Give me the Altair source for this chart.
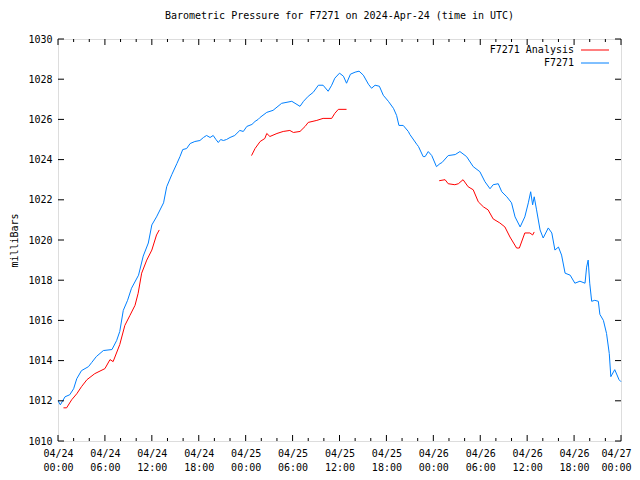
import altair as alt
import pandas as pd

# ---- data (hours since 2024-04-24 00:00 UTC, pressure in mb) ----
blue_hours = [0.0, 0.3, 0.9, 1.5, 2.0, 2.4, 3.0, 3.9, 4.3, 4.9, 5.8, 6.9, 7.5, 7.9, 8.35, 8.9, 9.4,
              10.3, 10.9, 11.55, 12.0, 12.6, 13.5, 13.9, 14.55, 15.2, 15.6, 15.95, 16.45, 16.9, 17.5,
              18.15, 18.6, 19.0, 19.45, 19.85, 20.2, 20.5, 20.8, 21.15, 21.55, 22.0, 22.6, 23.25, 23.7,
              24.15, 24.8, 25.2, 25.6, 25.85, 26.7, 27.5, 28.6, 29.9, 30.95, 31.4, 32.0, 32.65, 33.3,
              33.9, 34.55, 35.0, 35.4, 36.0, 36.5, 36.9, 37.4, 38.0, 38.5, 39.05, 39.7, 40.1, 40.55,
              41.1, 41.6, 42.25, 42.9, 43.3, 43.6, 44.15, 44.8, 45.0, 45.9, 46.1, 46.7, 46.95, 47.35,
              47.8, 48.4, 48.85, 49.1, 49.9, 50.8, 51.4, 52.25, 53.1, 53.95, 54.6, 55.25, 55.65, 56.3,
              56.75, 57.4, 58.0, 58.45, 59.1, 59.7, 60.15, 60.45, 60.7, 60.9, 61.2, 61.65, 62.05, 62.7,
              63.15, 63.55, 64.0, 64.4, 64.85, 65.5, 66.1, 66.75, 67.4, 67.6, 67.8, 68.0, 68.25, 68.65,
              69.1, 69.3, 69.75, 70.15, 70.5, 70.7, 71.2, 71.75, 72.0]
blue_pressure = [1012.0, 1011.8, 1012.2, 1012.3, 1012.6, 1013.1, 1013.5, 1013.7, 1013.9, 1014.2, 1014.5,
                 1014.55, 1015.0, 1015.45, 1016.5, 1017.0, 1017.6, 1018.25, 1019.2, 1019.85, 1020.75,
                 1021.15, 1021.85, 1022.65, 1023.25, 1023.8, 1024.15, 1024.5, 1024.55, 1024.8, 1024.9,
                 1024.95, 1025.1, 1025.2, 1025.1, 1025.2, 1025.0, 1024.85, 1025.0, 1024.95, 1025.0,
                 1025.1, 1025.2, 1025.45, 1025.4, 1025.65, 1025.75, 1025.9, 1026.0, 1026.1, 1026.35,
                 1026.45, 1026.8, 1026.9, 1026.65, 1026.9, 1027.15, 1027.35, 1027.7, 1027.7, 1027.4,
                 1027.7, 1028.05, 1028.3, 1028.15, 1027.8, 1028.25, 1028.35, 1028.4, 1028.2, 1027.75,
                 1027.55, 1027.7, 1027.65, 1027.2, 1026.9, 1026.55, 1026.2, 1025.7, 1025.7, 1025.4,
                 1025.25, 1024.75, 1024.65, 1024.15, 1024.15, 1024.4, 1024.2, 1023.65, 1023.8, 1023.85,
                 1024.2, 1024.25, 1024.4, 1024.15, 1023.65, 1023.4, 1022.9, 1022.55, 1022.75, 1022.8,
                 1022.4, 1022.15, 1021.85, 1021.15, 1020.65, 1021.15, 1021.85, 1022.4, 1021.75, 1022.15,
                 1021.5, 1020.5, 1020.1, 1020.6, 1020.35, 1019.5, 1019.65, 1019.25, 1018.35, 1018.25,
                 1017.85, 1017.95, 1017.85, 1018.65, 1019.0, 1017.85, 1016.95, 1017.0, 1016.95, 1016.3,
                 1016.0, 1015.35, 1014.35, 1013.2, 1013.55, 1013.05, 1012.95]

red1_hours = [0.7, 1.1, 1.75, 2.4, 3.0, 3.7, 4.7, 6.0, 6.65, 7.05, 7.9, 8.55, 9.2, 9.85, 10.25, 10.7,
              11.35, 12.0, 12.6, 12.95]
red1_pressure = [1011.65, 1011.65, 1012.05, 1012.35, 1012.7, 1013.05, 1013.35, 1013.6, 1014.05, 1013.95,
                 1014.8, 1015.75, 1016.25, 1016.75, 1017.35, 1018.35, 1019.0, 1019.5, 1020.25, 1020.5]
red2_hours = [24.75, 25.2, 25.85, 26.45, 26.7, 27.1, 28.0, 28.8, 29.65, 30.1, 30.95, 31.6, 32.0, 33.1,
              33.9, 35.0, 35.4, 35.85, 36.9]
red2_pressure = [1024.2, 1024.55, 1024.9, 1025.05, 1025.3, 1025.15, 1025.3, 1025.4, 1025.45, 1025.35,
                 1025.4, 1025.65, 1025.85, 1025.95, 1026.05, 1026.05, 1026.3, 1026.5, 1026.5]
red3_hours = [48.75, 49.5, 49.9, 50.75, 51.2, 51.8, 52.45, 53.1, 53.75, 54.4, 55.0, 55.65, 56.5, 57.15,
              57.8, 58.65, 59.0, 59.7, 60.35, 60.7, 60.9]
red3_pressure = [1022.95, 1023.0, 1022.8, 1022.75, 1022.8, 1023.0, 1022.65, 1022.5, 1021.9, 1021.65,
                 1021.5, 1021.05, 1020.85, 1020.65, 1020.15, 1019.6, 1019.6, 1020.35, 1020.35, 1020.25,
                 1020.4]

series_names = ["F7271 Analysis", "F7271"]
series_colors = ["#ff0000", "#0080ff"]

x_major = list(range(0, 73, 6))
x_minor = [h for h in range(0, 73, 2) if h % 6 != 0]
y_major = list(range(1010, 1031, 2))

# ---- build tables ----
rows = []
for h, p in zip(blue_hours, blue_pressure):
    rows.append({"hour": h, "pressure": p, "series": "F7271", "seg": "b"})
for tag, hs, ps in [("r1", red1_hours, red1_pressure), ("r2", red2_hours, red2_pressure),
                    ("r3", red3_hours, red3_pressure)]:
    for h, p in zip(hs, ps):
        rows.append({"hour": h, "pressure": p, "series": "F7271 Analysis", "seg": tag})
df = pd.DataFrame(rows)

W, H = 563, 402
FONT = "DejaVu Sans Mono"

xscale = alt.Scale(domain=[0, 72], nice=False, zero=False)
yscale = alt.Scale(domain=[1010, 1030], nice=False, zero=False)

label_expr = ("['04/' + (24 + floor(datum.value / 24)), "
              "((datum.value % 24) < 10 ? '0' : '') + (datum.value % 24) + ':00']")

x_axis = alt.Axis(values=x_major, labelExpr=label_expr, title=None, ticks=False, tickSize=0,
                  domain=False, grid=False, labelPadding=7, labelLineHeight=14,
                  labelFont=FONT, labelFontSize=10, labelColor="black",
                  labelAlign={"expr": "datum.value >= 72 ? 'right' : 'center'"},
                  labelOffset={"expr": "datum.value >= 72 ? 10 : 0"},
                  labelFlush=False, labelOverlap=False)
y_axis = alt.Axis(values=y_major, format="d", title="milliBars", ticks=False, tickSize=0, domain=False,
                  grid=False, labelPadding=6, labelFont=FONT, labelFontSize=10,
                  labelColor="black", titleFont=FONT, titleFontSize=10,
                  titleFontWeight="normal", titleColor="black", titleX=-44, titleY=201,
                  titleBaseline="middle", titleAngle=270, titleAlign="center")

lines = alt.Chart(df).mark_line(strokeWidth=1, interpolate="linear").encode(
    x=alt.X("hour:Q", scale=xscale, axis=x_axis, title=None),
    y=alt.Y("pressure:Q", scale=yscale, axis=y_axis, title="milliBars"),
    color=alt.Color("series:N", scale=alt.Scale(domain=series_names, range=series_colors), legend=None),
    detail="seg:N",
)

xmaj = pd.DataFrame({"hour": x_major})
xmin = pd.DataFrame({"hour": x_minor})
ymaj = pd.DataFrame({"pressure": y_major})

def xticks(d, y0, y1):
    return alt.Chart(d).mark_rule(color="black", strokeWidth=1).encode(
        x=alt.X("hour:Q", scale=xscale, axis=x_axis, title=None), y=alt.value(y0), y2=alt.value(y1))

def yticks(d, x0, x1):
    return alt.Chart(d).mark_rule(color="black", strokeWidth=1).encode(
        y=alt.Y("pressure:Q", scale=yscale, axis=y_axis, title="milliBars"),
        x=alt.value(x0), x2=alt.value(x1))

tick_layers = [
    xticks(xmaj, H, H - 6), xticks(xmaj, 0, 6),
    xticks(xmin, H, H - 3), xticks(xmin, 0, 3),
    yticks(ymaj, 0, 6), yticks(ymaj, W, W - 6),
]

leg = []
for i, (name, col) in enumerate(zip(series_names, series_colors)):
    yy = 11 + 13 * i
    ld = pd.DataFrame({"name": [name]})
    leg.append(alt.Chart(ld).mark_text(align="right", baseline="middle", font=FONT, fontSize=10,
                                       color="black").encode(
        text="name:N", x=alt.value(516), y=alt.value(yy)))
    leg.append(alt.Chart(ld).mark_rule(color=col, strokeWidth=1).encode(
        x=alt.value(523), x2=alt.value(551), y=alt.value(yy)))

chart = alt.layer(lines, *tick_layers, *leg).properties(
    width=W, height=H,
    title=alt.Title("Barometric Pressure for F7271 on 2024-Apr-24 (time in UTC)", font=FONT,
                    fontSize=10, fontWeight="normal", color="black", anchor="middle", offset=13),
    autosize=alt.AutoSizeParams(type="none"),
    padding={"left": 50, "top": 31, "right": 11, "bottom": 31},
).configure_view(stroke="black", strokeWidth=1).configure(background="white")

chart.save("out.html", embed_options={"renderer": "svg", "actions": False})
